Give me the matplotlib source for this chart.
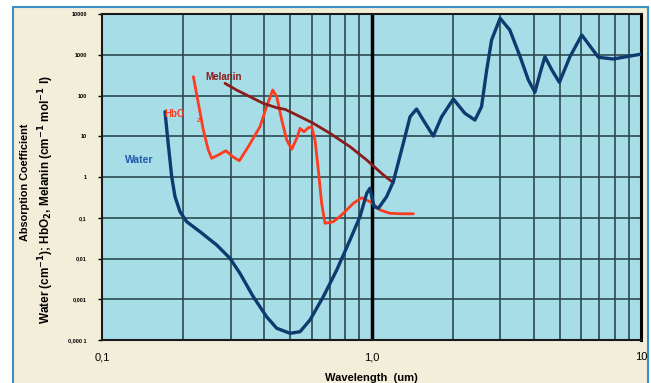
import matplotlib
matplotlib.use("Agg")
import matplotlib.pyplot as plt
from matplotlib.patches import Rectangle
import numpy as np

# Data (wavelength in um, absorption coefficient)
water_wl = [0.1713, 0.176, 0.1814, 0.1866, 0.1947, 0.2062, 0.231, 0.2665, 0.2985, 0.325,
            0.364, 0.408, 0.445, 0.4985, 0.543, 0.5913, 0.6626, 0.743, 0.832, 0.906,
            0.96, 0.987, 1.021, 1.06, 1.138, 1.205, 1.312, 1.39, 1.47, 1.556, 1.695,
            1.82, 2.012, 2.22, 2.42, 2.56, 2.676, 2.79, 3.0, 3.26, 3.56, 3.82, 4.04,
            4.22, 4.4, 4.67, 4.98, 5.45, 6.03, 6.56, 6.95, 7.89, 8.85, 9.92]
water_val = [40, 6.7, 1.02, 0.329, 0.141, 0.080, 0.0455, 0.0214, 0.0101, 0.00433,
             0.00116, 0.000373, 0.000194, 0.000146, 0.00016, 0.00031, 0.00116, 0.00522,
             0.0284, 0.106, 0.398, 0.528, 0.19, 0.17, 0.329, 0.77, 6.7, 30, 46.6, 25,
             10.1, 30, 82, 36.6, 25, 53, 423, 2300, 7840, 4050, 897, 240, 120, 350,
             897, 423, 210, 897, 3050, 1440, 865, 787, 897, 1026]

hbo2_wl = [0.2183, 0.2278, 0.2377, 0.2479, 0.2553, 0.2702, 0.2885, 0.3054, 0.3234, 0.349,
           0.3856, 0.408, 0.43, 0.445, 0.4644, 0.4846, 0.5057, 0.5279, 0.543, 0.5617,
           0.583, 0.6, 0.6172, 0.6348, 0.6531, 0.6722, 0.7213, 0.7745, 0.8564, 0.9196,
           0.987, 1.076, 1.17, 1.3, 1.43]
hbo2_val = [289, 64, 14.2, 4.6, 2.88, 3.47, 4.43, 3.15, 2.51, 5.55, 17.1, 53, 136, 93.5,
            25, 8.1, 4.78, 8.9, 15.6, 12.9, 16.2, 17.1, 8.1, 1.49, 0.226, 0.0731, 0.080,
            0.1167, 0.226, 0.31, 0.248, 0.155, 0.1285, 0.125, 0.125]

melanin_wl = [0.286, 0.316, 0.354, 0.3968, 0.445, 0.4775, 0.528, 0.608, 0.7015, 0.832,
              0.96, 1.107, 1.205]
melanin_val = [199, 136, 93.5, 64, 50, 45.8, 33.2, 20.8, 11.8, 5.55, 2.61, 1.12, 0.725]

y_ticks = [1e-4, 1e-3, 1e-2, 1e-1, 1, 10, 100, 1000, 10000]
y_labels = ["0,000 1", "0,001", "0,01", "0,1", "1", "10", "100", "1000", "10000"]
x_ticks = [0.1, 1.0, 10]
x_labels = ["0,1", "1,0", "10"]

plt.rcParams['font.family'] = ['Liberation Sans', 'DejaVu Sans']

fig = plt.figure(figsize=(6.51, 3.83), dpi=100)
fig.patch.set_facecolor("white")
# beige panel with blue frame
frame = Rectangle((12.5/651, -0.05), (648-12.5)/651, 1 - 6.5/383 + 0.05,
                  transform=fig.transFigure, facecolor="#f3eed9",
                  edgecolor="#3b8fc2", linewidth=1.5, zorder=-10)
fig.patches.append(frame)

ax = fig.add_axes([102/651, 1 - 340/383, (641-102)/651, (340-14)/383])
ax.set_zorder(1)
ax.set_facecolor("#a7dde7")
ax.set_xscale("log")
ax.set_yscale("log")
ax.set_xlim(0.1, 10)
ax.set_ylim(1e-4, 1e4)

gcol = "#2b4a50"
for d in y_ticks:
    ax.axhline(d, color=gcol, lw=1.2, zorder=1)
for dec in [0.1, 1.0]:
    for m in range(2, 10):
        ax.axvline(dec * m, color=gcol, lw=1.2, zorder=1)
ax.axvline(1.0, color="black", lw=2.5, zorder=2)

ax.plot(water_wl, water_val, color="#0e3b6f", lw=2.4, zorder=4,
        solid_joinstyle="round", solid_capstyle="round")
ax.plot(hbo2_wl, hbo2_val, color="#ff3b1f", lw=2.0, zorder=3,
        solid_joinstyle="round", solid_capstyle="round")
ax.plot(melanin_wl, melanin_val, color="#8b1c1c", lw=2.0, zorder=3,
        solid_joinstyle="round", solid_capstyle="round")

ax.text(0.241, 284, "Melanin", color="#8b1c1c", fontsize=7, fontweight="bold",
        ha="left", va="center", zorder=5)
ax.text(0.171, 35, "HbO", color="#ff3b1f", fontsize=7, fontweight="bold",
        ha="left", va="center", zorder=5)
ax.text(0.225, 24, "2", color="#ff3b1f", fontsize=4.5, fontweight="bold",
        ha="left", va="center", zorder=5)
ax.text(0.1217, 2.6, "Water", color="#1e5aa8", fontsize=7.5, fontweight="bold",
        ha="left", va="center", zorder=5)

ax.set_yticks(y_ticks)
ax.set_yticklabels(y_labels, fontsize=4, fontweight="bold")
ax.set_xticks(x_ticks)
ax.set_xticklabels(x_labels, fontsize=8)
ax.minorticks_off()
ax.tick_params(axis="y", length=3, width=1, pad=8)
ax.tick_params(axis="x", length=0, pad=9)

for s in ["left", "bottom", "top"]:
    ax.spines[s].set_color("#1a1a1a")
    ax.spines[s].set_linewidth(1.5)
ax.spines["right"].set_color("black")
ax.spines["right"].set_linewidth(2.2)

fig.text(371/651, 1 - 378/383, "Wavelength  (um)", fontsize=8, fontweight="bold",
         ha="center", va="center")
fig.text(25/651, 1 - 182/383, "Absorption Coefficient", fontsize=7.8, fontweight="bold",
         rotation=90, ha="center", va="center")
fig.text(46/651, 1 - 200/383,
         r"Water (cm$^{\mathbf{-1}}$); HbO$_{\mathbf{2}}$, Melanin (cm$^{\mathbf{-1}}$ mol$^{\mathbf{-1}}$ l)",
         fontsize=8.5, fontweight="bold", rotation=90, ha="center", va="center")

fig.savefig("out.png", dpi=100, facecolor=fig.get_facecolor())
